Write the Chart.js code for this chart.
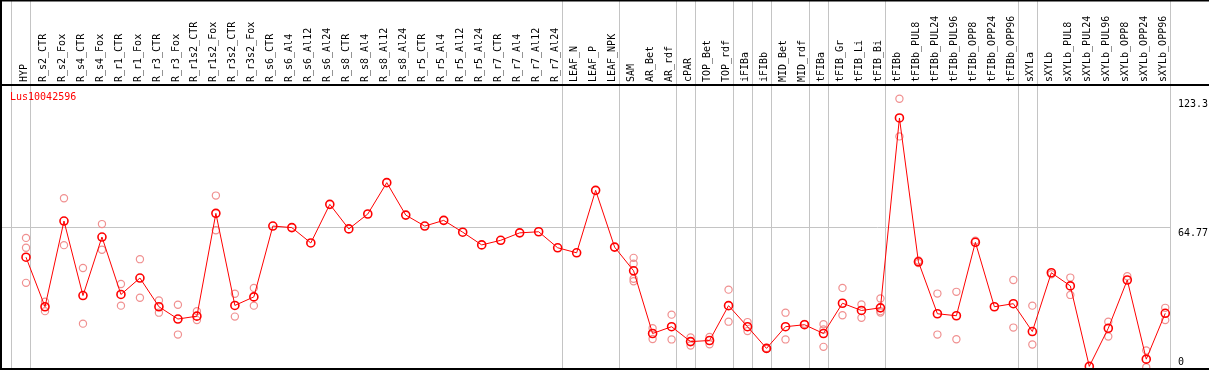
<!DOCTYPE html>
<html>
<head>
<meta charset="utf-8">
<script src="https://cdn.jsdelivr.net/npm/chart.js@4"></script>
<style>
  html, body { margin: 0; padding: 0; background: #fff; }
</style>
</head>
<body>
<canvas id="chart" width="1209" height="370"></canvas>
<script>
var geneName = 'Lus10042596';

var categories = ['HYP', 'R_s2_CTR', 'R_s2_Fox', 'R_s4_CTR', 'R_s4_Fox', 'R_r1_CTR', 'R_r1_Fox',
  'R_r3_CTR', 'R_r3_Fox', 'R_r1s2_CTR', 'R_r1s2_Fox', 'R_r3s2_CTR', 'R_r3s2_Fox',
  'R_s6_CTR', 'R_s6_Al4', 'R_s6_Al12', 'R_s6_Al24', 'R_s8_CTR', 'R_s8_Al4', 'R_s8_Al12', 'R_s8_Al24',
  'R_r5_CTR', 'R_r5_Al4', 'R_r5_Al12', 'R_r5_Al24', 'R_r7_CTR', 'R_r7_Al4', 'R_r7_Al12', 'R_r7_Al24',
  'LEAF_N', 'LEAF_P', 'LEAF_NPK', 'SAM', 'AR_Bet', 'AR_rdf', 'cPAR', 'TOP_Bet', 'TOP_rdf',
  'iFIBa', 'iFIBb', 'MID_Bet', 'MID_rdf', 'tFIBa', 'tFIB_Gr', 'tFIB_Li', 'tFIB_Bi', 'tFIBb',
  'tFIBb_PUL8', 'tFIBb_PUL24', 'tFIBb_PUL96', 'tFIBb_OPP8', 'tFIBb_OPP24', 'tFIBb_OPP96',
  'sXYLa', 'sXYLb', 'sXYLb_PUL8', 'sXYLb_PUL24', 'sXYLb_PUL96', 'sXYLb_OPP8', 'sXYLb_OPP24', 'sXYLb_OPP96'];

// mean expression per sample
var means = [51.0, 28.4, 67.5, 33.5, 60.2, 34.0, 41.5,
  28.4, 22.8, 24.1, 71.0, 29.0, 32.9,
  65.2, 64.5, 57.5, 75.1, 63.9, 70.7, 85.0, 70.2,
  65.2, 67.8, 62.4, 56.6, 58.7, 62.1, 62.6, 55.3,
  53.0, 81.5, 55.6, 44.8, 16.2, 19.3, 12.5, 13.0, 28.9,
  19.3, 9.4, 19.3, 20.2, 16.2, 30.0, 26.7, 27.9, 114.5,
  48.9, 25.2, 24.3, 57.8, 28.4, 29.8,
  17.1, 43.9, 37.9, 1.2, 18.6, 40.6, 4.5, 25.4];

// single replicates per sample
var reps = [[59.8, 55.3, 39.3], [30.7, 26.4], [77.9, 56.5], [46.1, 20.7], [66.1, 54.4], [38.8, 28.9], [50.1, 32.5],
  [31.3, 25.7], [29.3, 15.7], [26.4, 22.3], [79.1, 63.3], [34.3, 23.9], [37.0, 28.9],
  [], [], [], [], [], [], [], [],
  [], [], [], [], [], [], [], [],
  [], [], [], [50.7, 48.0, 41.2, 40.0], [18.6, 13.7], [24.8, 13.5], [14.4, 10.7], [14.6, 11.3], [36.2, 21.6],
  [21.4, 17.3], [9.6, 9.2], [25.7, 13.5], [20.6], [20.4, 18.0, 10.1], [37.0, 24.5], [29.4, 23.4], [32.2, 26.4, 25.8], [123.3, 106.1],
  [49.5, 48.3], [34.4, 15.7], [35.2, 13.6], [58.5], [], [40.6, 18.9],
  [28.9, 11.2], [43.2], [41.7, 33.8], [], [21.6, 14.8], [42.3], [8.5, 0.8], [27.9, 22.3]];

// group separators come after these sample indexes
var groupEnds = [-1, 0, 28, 31, 34, 35, 37, 38, 39, 41, 42, 45, 52, 53, 60];

var yTickValues = [0, 64.77, 123.3];
var yTickLabels = ['0', '64.77', '123.3'];

var monoFont = 'DejaVu Sans Mono';

var meanPoints = means.map(function(v, i) { return {x: i, y: v}; });
var repPoints = [];
reps.forEach(function(list, i) {
  list.forEach(function(v) { repPoints.push({x: i, y: v}); });
});

var xTicks = categories.map(function(c, i) { return i; });
groupEnds.forEach(function(k) { xTicks.push(k + 0.25); });
xTicks.sort(function(a, b) { return a - b; });

function sepColor(ctx) {
  if (!ctx.tick) return 'rgba(0,0,0,0)';
  return Number.isInteger(ctx.tick.value) ? 'rgba(0,0,0,0)' : '#c4c4c4';
}

var framePlugin = {
  id: 'frame',
  afterDraw: function(chart) {
    var c = chart.ctx;
    var yScale = chart.scales.y;
    c.save();
    c.strokeStyle = '#000';
    c.lineWidth = 2;
    c.beginPath();
    c.moveTo(0, 0.5); c.lineTo(chart.width, 0.5);
    c.moveTo(1, 0); c.lineTo(1, chart.height);
    c.moveTo(0, 85); c.lineTo(chart.width, 85);
    c.moveTo(0, 369); c.lineTo(chart.width, 369);
    c.stroke();

    c.font = '10px "' + monoFont + '"';
    c.textBaseline = 'middle';
    c.textAlign = 'left';
    c.fillStyle = '#ff0000';
    c.fillText(geneName, 10, 97);

    c.fillStyle = '#000';
    yTickValues.forEach(function(v, i) {
      var y = Math.min(yScale.getPixelForValue(v) + 6, 362);
      c.fillText(yTickLabels[i], 1178, y);
    });
    c.restore();
  }
};

var ctx = document.getElementById('chart');
var chart = new Chart(ctx, {
  type: 'line',
  data: {
    datasets: [{
      label: geneName,
      data: meanPoints,
      borderColor: '#ff0000',
      borderWidth: 1,
      pointRadius: 4,
      pointBorderWidth: 1.6,
      pointBorderColor: '#ff0000',
      pointBackgroundColor: 'rgba(0,0,0,0)',
      tension: 0
    }, {
      label: 'replicates',
      data: repPoints,
      showLine: false,
      pointRadius: 3.6,
      pointBorderWidth: 1.2,
      pointBorderColor: '#f09090',
      pointBackgroundColor: 'rgba(0,0,0,0)'
    }]
  },
  options: {
    responsive: false,
    animation: false,
    devicePixelRatio: 1,
    layout: { padding: 0, autoPadding: false },
    plugins: { legend: { display: false }, tooltip: { enabled: false } },
    scales: {
      x: {
        type: 'linear',
        position: 'top',
        min: -1.37,
        max: 60.25,
        afterFit: function(s) {
          s.height = 85;
          s.paddingLeft = 0;
          s.paddingRight = 0;
        },
        afterBuildTicks: function(s) {
          s.ticks = xTicks.map(function(v) { return {value: v}; });
        },
        ticks: {
          autoSkip: false,
          minRotation: 90,
          maxRotation: 90,
          padding: -82,
          labelOffset: 10,
          color: '#000',
          font: { family: monoFont, size: 10 },
          callback: function(v) { return Number.isInteger(v) ? categories[v] : ''; }
        },
        grid: { tickLength: 85, color: sepColor, tickColor: sepColor, lineWidth: 1 },
        border: { display: false }
      },
      y: {
        position: 'right',
        min: -0.45,
        max: 129.54,
        afterFit: function(s) { s.width = 39; },
        afterBuildTicks: function(s) {
          s.ticks = yTickValues.map(function(v) { return {value: v}; });
        },
        ticks: { display: false },
        grid: {
          drawTicks: false,
          color: function(c) { return c.tick && c.tick.value === 64.77 ? '#c4c4c4' : 'rgba(0,0,0,0)'; }
        },
        border: { display: false }
      }
    }
  },
  plugins: [framePlugin]
});
</script>
</body>
</html>
